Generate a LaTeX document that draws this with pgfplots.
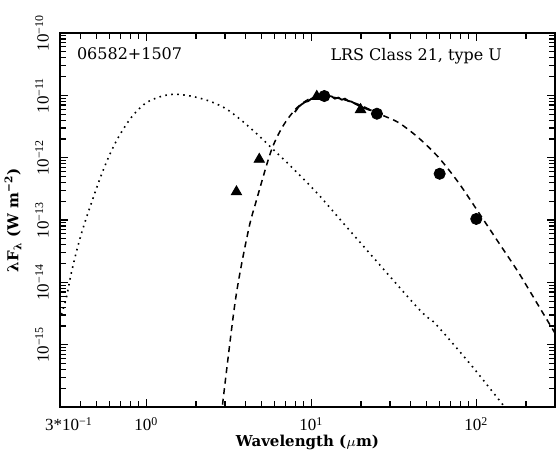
\documentclass[border=0pt]{standalone}
\usepackage{fontspec}
\setmainfont{DejaVu Serif}
\newfontfamily\tickfont{Liberation Serif}
\usepackage{pgfplots}
\pgfplotsset{compat=1.18}
\begin{document}
\begin{tikzpicture}
\begin{axis}[
  at={(0,0)}, anchor=south west,
  scale only axis, width=247.5pt, height=187pt,
  xmode=log, ymode=log,
  xmin=0.3, xmax=300, ymin=1e-16, ymax=1e-10,
  axis line style={line width=1.4pt},
  every tick/.style={black, line width=0.6pt},
  tick align=inside,
  major tick length=4pt, minor tick length=2.8pt,
  xtick={1,10,100},
  xticklabels={10\textsuperscript{0},10\textsuperscript{1},10\textsuperscript{2}},
  extra x ticks={0.3},
  extra x tick labels={3*10\textsuperscript{−1}},
  extra x tick style={xticklabel style={xshift=4.5pt}},
  minor xtick={0.4,0.5,0.6,0.7,0.8,0.9,2,3,4,5,6,7,8,9,20,30,40,50,60,70,80,90,200},
  ytick={1e-16,1e-15,1e-14,1e-13,1e-12,1e-11,1e-10},
  yticklabels={,10\textsuperscript{−15},10\textsuperscript{−14},10\textsuperscript{−13},10\textsuperscript{−12},10\textsuperscript{−11},10\textsuperscript{−10}},
  minor ytick={2e-16,3e-16,4e-16,5e-16,6e-16,7e-16,8e-16,9e-16,
               2e-15,3e-15,4e-15,5e-15,6e-15,7e-15,8e-15,9e-15,
               2e-14,3e-14,4e-14,5e-14,6e-14,7e-14,8e-14,9e-14,
               2e-13,3e-13,4e-13,5e-13,6e-13,7e-13,8e-13,9e-13,
               2e-12,3e-12,4e-12,5e-12,6e-12,7e-12,8e-12,9e-12,
               2e-11,3e-11,4e-11,5e-11,6e-11,7e-11,8e-11,9e-11},
  xticklabel style={font=\tickfont\fontsize{8.5}{10}\selectfont, anchor=center, yshift=-8.5pt},
  yticklabel style={font=\tickfont\fontsize{8.5}{10}\selectfont, xshift=-9pt, rotate=90, anchor=center},
  xlabel={\bfseries Wavelength ($\mu$m)},
  ylabel={λF\textsubscript{λ} (W m\textsuperscript{−2})},
  every axis x label/.style={at={(axis description cs:0.5,0)}, yshift=-17.5pt, anchor=center, font=\fontsize{7.5}{9}\selectfont},
  every axis y label/.style={at={(axis description cs:0,0.5)}, xshift=-23.5pt, rotate=90, anchor=center, font=\fontsize{7.5}{9}\selectfont\bfseries},
]
% hot photosphere (dotted)
\addplot[black, line width=0.8pt, dash pattern=on 0.8pt off 2.2pt, smooth] coordinates {
(0.29,2.0e-15) (0.30,2.6e-15) (0.327,5.5e-15) (0.351,1.4e-14) (0.387,4.0e-14)
(0.427,9.6e-14) (0.512,3.9e-13) (0.589,1.0e-12) (0.676,2.1e-12) (0.811,4.42e-12)
(0.986,7.43e-12) (1.233,9.64e-12) (1.50,1.04e-11) (1.87,9.7e-12) (2.38,8.2e-12)
(3.01,6.2e-12) (3.76,4.0e-12) (4.77,2.3e-12) (5.72,1.45e-12) (6.95,8.9e-13)
(8.34,5.5e-13) (11.0,2.6e-13) (16.8,7.16e-14) (44.5,3.81e-15) (56.4,2.18e-15)
(89.5,5.32e-16) (123,1.88e-16) (152,9.3e-17) (170,6.5e-17)
};
% cool dust shell (dashed)
\addplot[black, line width=0.75pt, dash pattern=on 3pt off 2.3pt, smooth] coordinates {
(2.80,5e-17) (3.46,4.94e-15) (4.15,6.65e-14) (4.64,2.02e-13) (5.72,1.30e-12)
(6.77,3.28e-12) (8.11,6.16e-12) (9.59,8.6e-12) (11.0,9.6e-12) (12.7,9.6e-12)
(15.6,8.6e-12) (19.3,7.16e-12) (25.5,5.1e-12) (33.7,3.67e-12) (44.5,2.10e-12)
(58.9,1.02e-12) (77.8,4.03e-13) (102.8,1.35e-13) (136,4.42e-14) (180,1.45e-14)
(238,4.25e-15) (314,1.25e-15)
};
% LRS spectrum (solid)
\addplot[black, line width=0.9pt] coordinates {
(7.96,5.38e-12) (8.34,6.47e-12) (8.74,7.16e-12) (9.16,7.80e-12) (9.59,8.09e-12)
(10.04,8.85e-12) (10.5,9.4e-12) (11.0,9.7e-12) (11.55,1.0e-11) (12.3,9.9e-12)
(13.3,9.6e-12) (13.9,8.85e-12) (14.6,9.2e-12) (15.3,8.5e-12) (16.0,8.85e-12)
(16.8,8.1e-12) (17.6,7.9e-12) (18.4,7.35e-12) (19.3,6.9e-12) (20.2,6.47e-12)
(21.2,6.2e-12) (22.2,5.9e-12) (23.2,5.73e-12)
};
% ground-based photometry (triangles)
\addplot[only marks, mark=triangle*, mark size=3pt, black] coordinates {
(3.52,2.83e-13) (4.84,9.4e-13) (10.8,9.6e-12) (19.9,5.9e-12)
};
% IRAS photometry (circles)
\addplot[only marks, mark=*, mark size=2.8pt, black] coordinates {
(12,9.75e-12) (25,5.07e-12) (60,5.52e-13) (100,1.04e-13)
};
\node[anchor=north west, font=\fontsize{8}{9}\selectfont] at (rel axis cs:0,1) [xshift=5pt, yshift=-4pt] {06582+1507};
\node[anchor=north east, font=\fontsize{8}{9}\selectfont] at (rel axis cs:1,1) [xshift=-23pt, yshift=-4pt] {LRS Class 21, type U};
\end{axis}
\pgfresetboundingbox
\useasboundingbox (-30pt,-23.5pt) rectangle (248pt,203.5pt);
\end{tikzpicture}
\end{document}
